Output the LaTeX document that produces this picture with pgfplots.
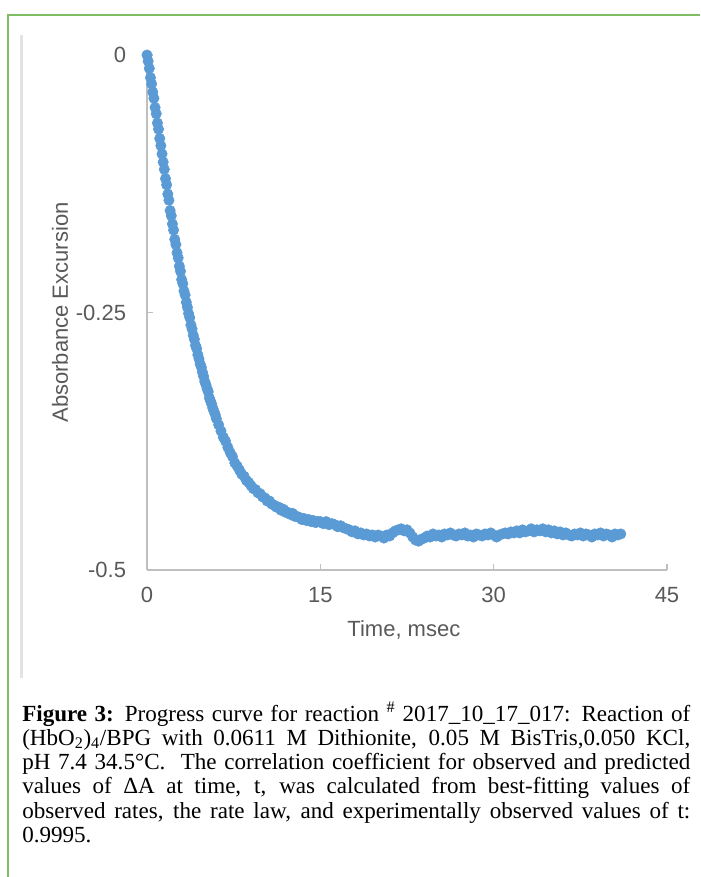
\documentclass[border=0pt]{standalone}
\usepackage{pgfplots}
\pgfplotsset{compat=1.18}
\usepackage{pgfplotstable}
\usepackage{fontspec}
\setmainfont{Liberation Serif}
\newfontfamily\arial{Liberation Sans}
\definecolor{xlblue}{HTML}{5B9BD5}
\definecolor{xlgray}{HTML}{595959}
\definecolor{axgray}{HTML}{BFBFBF}
\definecolor{framegreen}{HTML}{7DBE62}
\definecolor{bordergray}{HTML}{E3E3E3}

\pgfplotstableread{
t v
0.0 0.000
0.1 -0.006
0.2 -0.013
0.3 -0.022
0.4 -0.028
0.5 -0.036
0.6 -0.042
0.7 -0.051
0.8 -0.057
0.9 -0.066
1.0 -0.072
1.1 -0.081
1.2 -0.088
1.3 -0.096
1.4 -0.104
1.5 -0.111
1.6 -0.120
1.7 -0.126
1.8 -0.135
1.9 -0.141
2.0 -0.151
2.1 -0.156
2.2 -0.164
2.3 -0.170
2.4 -0.179
2.5 -0.184
2.6 -0.192
2.7 -0.197
2.8 -0.205
2.9 -0.210
3.0 -0.218
3.1 -0.222
3.2 -0.229
3.3 -0.233
3.4 -0.240
3.5 -0.245
3.6 -0.251
3.7 -0.255
3.8 -0.262
3.9 -0.266
4.0 -0.272
4.1 -0.276
4.2 -0.282
4.3 -0.285
4.4 -0.291
4.5 -0.295
4.6 -0.300
4.7 -0.303
4.8 -0.308
4.9 -0.312
5.0 -0.317
5.1 -0.320
5.2 -0.324
5.3 -0.327
5.4 -0.333
5.5 -0.336
5.6 -0.339
5.7 -0.343
5.8 -0.346
5.9 -0.349
6.0 -0.353
6.2 -0.359
6.4 -0.365
6.6 -0.371
6.8 -0.375
7.0 -0.381
7.2 -0.386
7.4 -0.390
7.6 -0.396
7.8 -0.399
8.0 -0.403
8.2 -0.407
8.4 -0.409
8.6 -0.413
8.8 -0.415
9.0 -0.418
9.2 -0.421
9.4 -0.422
9.6 -0.425
9.8 -0.426
10.0 -0.429
10.2 -0.430
10.4 -0.433
10.6 -0.433
10.8 -0.436
11.0 -0.437
11.2 -0.439
11.4 -0.439
11.6 -0.442
11.8 -0.441
12.0 -0.444
12.2 -0.444
12.4 -0.446
12.6 -0.445
12.8 -0.448
13.0 -0.448
13.2 -0.449
13.4 -0.451
13.6 -0.450
13.8 -0.452
14.0 -0.451
14.2 -0.453
14.4 -0.452
14.6 -0.454
14.8 -0.453
15.0 -0.453
15.25 -0.455
15.5 -0.453
15.75 -0.456
16.0 -0.455
16.25 -0.456
16.5 -0.458
16.75 -0.457
17.0 -0.459
17.25 -0.460
17.5 -0.461
17.75 -0.463
18.0 -0.462
18.25 -0.465
18.5 -0.464
18.75 -0.466
19.0 -0.465
19.25 -0.467
19.5 -0.466
19.75 -0.468
20.0 -0.466
20.25 -0.467
20.5 -0.469
20.75 -0.466
21.0 -0.467
21.25 -0.464
21.5 -0.462
21.75 -0.461
22.0 -0.460
22.25 -0.462
22.5 -0.461
22.75 -0.464
23.0 -0.468
23.25 -0.471
23.5 -0.472
23.75 -0.470
24.0 -0.469
24.25 -0.467
24.5 -0.468
24.75 -0.465
25.0 -0.467
25.25 -0.466
25.5 -0.468
25.75 -0.465
26.0 -0.466
26.25 -0.464
26.5 -0.466
26.75 -0.467
27.0 -0.465
27.25 -0.466
27.5 -0.464
27.75 -0.467
28.0 -0.466
28.25 -0.468
28.5 -0.465
28.75 -0.466
29.0 -0.467
29.25 -0.465
29.5 -0.466
29.75 -0.464
30.0 -0.466
30.25 -0.468
30.5 -0.466
30.75 -0.465
31.0 -0.464
31.25 -0.465
31.5 -0.463
31.75 -0.464
32.0 -0.462
32.25 -0.464
32.5 -0.461
32.75 -0.463
33.0 -0.462
33.25 -0.460
33.5 -0.463
33.75 -0.461
34.0 -0.462
34.25 -0.460
34.5 -0.463
34.75 -0.461
35.0 -0.464
35.25 -0.462
35.5 -0.465
35.75 -0.463
36.0 -0.466
36.25 -0.464
36.5 -0.466
36.75 -0.467
37.0 -0.465
37.25 -0.466
37.5 -0.464
37.75 -0.467
38.0 -0.465
38.25 -0.466
38.5 -0.468
38.75 -0.465
39.0 -0.466
39.25 -0.464
39.5 -0.467
39.75 -0.465
40.0 -0.466
40.25 -0.468
40.5 -0.465
40.75 -0.466
41.0 -0.465
}\curvedata

\begin{document}
\begin{tikzpicture}
\begin{scope}[x=0.75pt,y=-0.75pt]
  \path[use as bounding box] (0,0) rectangle (700,877);
  \draw[framegreen, line width=1.5pt] (8,877) -- (8,15) -- (700,15);
  \draw[bordergray, line width=2.2pt] (21.5,35) -- (21.5,678);
\end{scope}

\begin{axis}[
  at={(110.25pt,-427.5pt)}, anchor=south west,
  scale only axis, width=390pt, height=386.25pt,
  xmin=0, xmax=45, ymin=-0.5, ymax=0,
  clip=false,
  axis lines*=left,
  axis line style={draw=axgray, line width=1.2pt},
  xtick={0,15,30,45}, xticklabels={0,15,30,45},
  ytick={-0.5,-0.25,0}, yticklabels={-0.5,-0.25,0},
  tick align=inside, major tick length=4.5pt,
  tick style={draw=axgray, line width=1.2pt},
  xticklabel style={font=\arial\fontsize{16.5}{18}\selectfont, text=xlgray, anchor=north, inner sep=0pt, yshift=-12.5pt},
  yticklabel style={font=\arial\fontsize{16.5}{18}\selectfont, text=xlgray, anchor=east, inner sep=0pt, xshift=-15.5pt},
  xlabel={Time, msec},
  ylabel={Absorbance Excursion},
  xlabel style={font=\arial\fontsize{16.5}{18}\selectfont, text=xlgray, at={(axis description cs:0.494,-0.1165)}, anchor=center},
  ylabel style={font=\arial\fontsize{16.5}{18}\selectfont, text=xlgray, at={(axis description cs:-0.1673,0.5)}, anchor=center},
]
\addplot[only marks, mark=*, mark size=3.9pt, color=xlblue, mark options={fill=xlblue, draw=xlblue}] table[x=t, y=v] {\curvedata};
\end{axis}

\begin{scope}[x=0.75pt,y=-0.75pt]
  \node[anchor=north west, inner sep=0pt, text width=501pt, align=justify,
        font=\fontsize{17.3}{18.15}\selectfont] at (22,702) {%
  \textbf{Figure 3:} Progress curve for reaction \textsuperscript{\#} 2017\_10\_17\_017: Reaction of\linebreak
  (HbO\textsubscript{2})\textsubscript{4}/BPG with 0.0611 M Dithionite, 0.05 M BisTris,0.050 KCl,\linebreak
  pH 7.4 34.5°C.\ \ The correlation coefficient for observed and predicted\linebreak
  values of ΔA at time, t, was calculated from best-fitting values of\linebreak
  observed rates, the rate law, and experimentally observed values of t:\linebreak
  0.9995.};
\end{scope}
\end{tikzpicture}
\end{document}
